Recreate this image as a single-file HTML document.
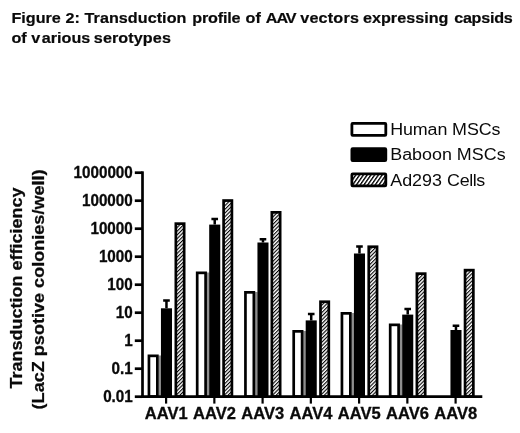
<!DOCTYPE html>
<html><head><meta charset="utf-8"><title>Figure 2</title>
<style>html,body{margin:0;padding:0;background:#fff}svg{display:block}</style></head>
<body>
<svg width="520" height="433" viewBox="0 0 520 433">
<defs>
<pattern id="h" width="2.62" height="2.62" patternUnits="userSpaceOnUse" patternTransform="rotate(-45)"><rect width="2.62" height="2.62" fill="#fff"/><rect width="2.62" height="1.1" fill="#000"/></pattern>
<pattern id="hl" width="3.08" height="3.08" patternUnits="userSpaceOnUse" patternTransform="rotate(-55)"><rect width="3.08" height="3.08" fill="#fff"/><rect width="3.08" height="1.35" fill="#000"/></pattern>
</defs>
<rect width="520" height="433" fill="#fff"/>
<g font-family="'Liberation Sans', Arial, sans-serif" font-size="15.2" font-weight="bold" fill="#0a0a0a" stroke="#0a0a0a" stroke-width="0.2">
<text transform="scale(1.0625,1)" y="23.5"><tspan x="10.82">Figure</tspan> <tspan x="61.74">2:</tspan> <tspan x="79.62" letter-spacing="0.04">Transduction</tspan> <tspan x="180.89" letter-spacing="-0.15">profile</tspan> <tspan x="231.06" letter-spacing="0.1">of</tspan> <tspan x="250.16" letter-spacing="-1.0">AAV</tspan> <tspan x="282.54" letter-spacing="0.2">vectors</tspan> <tspan x="341.65" letter-spacing="0.02">expressing</tspan> <tspan x="427.48" letter-spacing="-0.25">capsids</tspan></text>
<text transform="scale(1.0625,1)" y="42.8"><tspan x="10.82">of</tspan> <tspan x="29.36">v</tspan><tspan x="39.34">arious</tspan> <tspan x="88.28" letter-spacing="0.1">serotypes</tspan></text>
</g>
<g font-family="'Liberation Sans', Arial, sans-serif" font-size="17.3" fill="#0a0a0a">
<rect x="351.9" y="123.40" width="33.9" height="11.9" rx="0.8" fill="#fff" stroke="#000" stroke-width="2.8"/>
<text transform="translate(390.2,135.00) scale(1.035,1)"><tspan letter-spacing="-0.12">Human MSCs</tspan></text>
<rect x="351.9" y="148.65" width="33.9" height="11.9" rx="0.8" fill="#000" stroke="#000" stroke-width="2.8"/>
<text transform="translate(390.2,160.25) scale(1.035,1)">Baboon MSCs</text>
<rect x="351.9" y="173.90" width="33.9" height="11.9" rx="0.8" fill="url(#hl)" stroke="#000" stroke-width="2.8"/>
<text transform="translate(390.2,185.50) scale(1.035,1)">Ad293 C<tspan letter-spacing="-0.45">ells</tspan></text>
</g>
<g font-family="'Liberation Sans', Arial, sans-serif" font-size="15.6" font-weight="bold" fill="#0a0a0a" stroke="#0a0a0a" stroke-width="0.25" text-anchor="middle">
<text transform="translate(22.2,288) rotate(-90) scale(1.154,1)">Transduction efficiency</text>
<text transform="translate(44.2,289.4) rotate(-90) scale(1.16,1)">(LacZ psotive colonies/well)</text>
</g>
<g font-family="'Liberation Sans', Arial, sans-serif" font-size="15.9" font-weight="bold" fill="#0a0a0a" stroke="#0a0a0a" stroke-width="0.3" text-anchor="middle">
<rect x="158.40" y="355.50" width="2.8" height="41.05" fill="#8e8e8e" stroke="none"/>
<rect x="148.95" y="355.85" width="8.40" height="40.70" fill="#fff" stroke="#000" stroke-width="2.7"/>
<rect x="160.95" y="308.30" width="11.05" height="88.25" fill="#000" stroke="none"/>
<path d="M166.47 308.3 V300.50 M163.17 300.50 H169.78" stroke="#000" stroke-width="2.5" fill="none"/>
<rect x="175.85" y="223.65" width="8.30" height="172.90" fill="url(#h)" stroke="#000" stroke-width="2.7"/>
<path d="M166.10 396.55 V403.6" stroke="#000" stroke-width="2.2"/>
<text transform="translate(166.30,418.7) scale(1.04,1)">AAV1</text>
<rect x="206.65" y="272.50" width="2.8" height="124.05" fill="#8e8e8e" stroke="none"/>
<rect x="197.20" y="272.85" width="8.40" height="123.70" fill="#fff" stroke="#000" stroke-width="2.7"/>
<rect x="209.20" y="224.60" width="11.05" height="171.95" fill="#000" stroke="none"/>
<path d="M214.72 224.6 V219.10 M211.42 219.10 H218.03" stroke="#000" stroke-width="2.5" fill="none"/>
<rect x="223.60" y="200.55" width="8.30" height="196.00" fill="url(#h)" stroke="#000" stroke-width="2.7"/>
<path d="M214.35 396.55 V403.6" stroke="#000" stroke-width="2.2"/>
<text transform="translate(214.55,418.7) scale(1.04,1)">AAV2</text>
<rect x="254.90" y="292.00" width="2.8" height="104.55" fill="#8e8e8e" stroke="none"/>
<rect x="245.45" y="292.35" width="8.40" height="104.20" fill="#fff" stroke="#000" stroke-width="2.7"/>
<rect x="257.45" y="242.50" width="11.05" height="154.05" fill="#000" stroke="none"/>
<path d="M262.97 242.5 V239.30 M259.67 239.30 H266.27" stroke="#000" stroke-width="2.5" fill="none"/>
<rect x="271.85" y="212.35" width="8.30" height="184.20" fill="url(#h)" stroke="#000" stroke-width="2.7"/>
<path d="M262.60 396.55 V403.6" stroke="#000" stroke-width="2.2"/>
<text transform="translate(262.80,418.7) scale(1.04,1)">AAV3</text>
<rect x="303.15" y="331.00" width="2.8" height="65.55" fill="#8e8e8e" stroke="none"/>
<rect x="293.70" y="331.35" width="8.40" height="65.20" fill="#fff" stroke="#000" stroke-width="2.7"/>
<rect x="305.70" y="320.40" width="11.05" height="76.15" fill="#000" stroke="none"/>
<path d="M311.22 320.4 V314.10 M307.92 314.10 H314.52" stroke="#000" stroke-width="2.5" fill="none"/>
<rect x="320.50" y="301.75" width="8.30" height="94.80" fill="url(#h)" stroke="#000" stroke-width="2.7"/>
<path d="M310.85 396.55 V403.6" stroke="#000" stroke-width="2.2"/>
<text transform="translate(311.05,418.7) scale(1.04,1)">AAV4</text>
<rect x="351.40" y="313.00" width="2.8" height="83.55" fill="#8e8e8e" stroke="none"/>
<rect x="341.95" y="313.35" width="8.40" height="83.20" fill="#fff" stroke="#000" stroke-width="2.7"/>
<rect x="353.95" y="253.50" width="11.05" height="143.05" fill="#000" stroke="none"/>
<path d="M359.47 253.5 V246.50 M356.17 246.50 H362.77" stroke="#000" stroke-width="2.5" fill="none"/>
<rect x="368.75" y="246.75" width="8.30" height="149.80" fill="url(#h)" stroke="#000" stroke-width="2.7"/>
<path d="M359.10 396.55 V403.6" stroke="#000" stroke-width="2.2"/>
<text transform="translate(359.30,418.7) scale(1.04,1)">AAV5</text>
<rect x="399.65" y="324.50" width="2.8" height="72.05" fill="#8e8e8e" stroke="none"/>
<rect x="390.20" y="324.85" width="8.40" height="71.70" fill="#fff" stroke="#000" stroke-width="2.7"/>
<rect x="402.20" y="314.60" width="11.05" height="81.95" fill="#000" stroke="none"/>
<path d="M407.72 314.6 V309.10 M404.42 309.10 H411.02" stroke="#000" stroke-width="2.5" fill="none"/>
<rect x="416.90" y="273.65" width="8.30" height="122.90" fill="url(#h)" stroke="#000" stroke-width="2.7"/>
<path d="M407.35 396.55 V403.6" stroke="#000" stroke-width="2.2"/>
<text transform="translate(407.55,418.7) scale(1.04,1)">AAV6</text>
<rect x="450.45" y="330.00" width="11.05" height="66.55" fill="#000" stroke="none"/>
<path d="M455.97 330 V325.70 M452.67 325.70 H459.27" stroke="#000" stroke-width="2.5" fill="none"/>
<rect x="465.05" y="270.15" width="8.30" height="126.40" fill="url(#h)" stroke="#000" stroke-width="2.7"/>
<path d="M455.60 396.55 V403.6" stroke="#000" stroke-width="2.2"/>
<text transform="translate(455.80,418.7) scale(1.04,1)">AAV8</text>
</g>
<path d="M142.5 171.35 V397.90" stroke="#000" stroke-width="2.7"/>
<path d="M141.15 396.55 H482.3" stroke="#000" stroke-width="2.7"/>
<g font-family="'Liberation Sans', Arial, sans-serif" font-size="15.8" font-weight="bold" fill="#0a0a0a" stroke="#0a0a0a" stroke-width="0.3" text-anchor="end">
<path d="M134.8 172.70 H142.5" stroke="#000" stroke-width="2.7"/>
<text transform="translate(132.8,178.30) scale(0.965,1)">1000000</text>
<path d="M134.8 200.70 H142.5" stroke="#000" stroke-width="2.7"/>
<text transform="translate(132.8,206.30) scale(0.965,1)">100000</text>
<path d="M134.8 228.70 H142.5" stroke="#000" stroke-width="2.7"/>
<text transform="translate(132.8,234.30) scale(0.965,1)">10000</text>
<path d="M134.8 256.70 H142.5" stroke="#000" stroke-width="2.7"/>
<text transform="translate(132.8,262.30) scale(0.965,1)">1000</text>
<path d="M134.8 284.70 H142.5" stroke="#000" stroke-width="2.7"/>
<text transform="translate(132.8,290.30) scale(0.965,1)">100</text>
<path d="M134.8 312.70 H142.5" stroke="#000" stroke-width="2.7"/>
<text transform="translate(132.8,318.30) scale(0.965,1)">10</text>
<path d="M134.8 340.70 H142.5" stroke="#000" stroke-width="2.7"/>
<text transform="translate(132.8,346.30) scale(0.965,1)">1</text>
<path d="M134.8 368.70 H142.5" stroke="#000" stroke-width="2.7"/>
<text transform="translate(132.8,374.30) scale(0.965,1)">0.1</text>
<path d="M134.8 396.70 H142.5" stroke="#000" stroke-width="2.7"/>
<text transform="translate(132.8,402.30) scale(0.965,1)">0.01</text>
</g>
</svg>
</body></html>
